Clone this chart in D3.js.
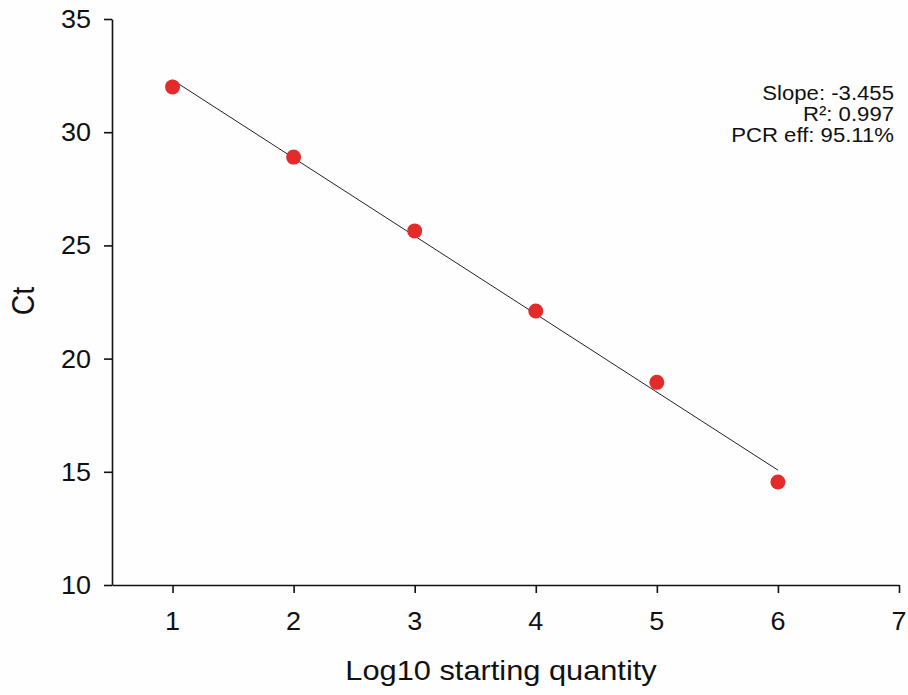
<!DOCTYPE html>
<html>
<head>
<meta charset="utf-8">
<script src="https://cdn.jsdelivr.net/npm/d3@7"></script>
<style>
  html, body { margin: 0; padding: 0; background: #fefefe; }
  svg { display: block; }
  text { font-family: "Liberation Sans", Arial, sans-serif; fill: #111; }
</style>
</head>
<body>
<svg id="chart" width="908" height="695"></svg>
<script>
// ---- data ----
const logQuantity = [1, 2, 3, 4, 5, 6];
const ctValues = [32.0, 28.9, 25.64, 22.1, 18.95, 14.55];
const xTicks = [1, 2, 3, 4, 5, 6, 7];
const yTicks = [10, 15, 20, 25, 30, 35];
const xDomain = [0.5, 7];
const yDomain = [10, 35];
const statLines = ["Slope: -3.455", "R\u00b2: 0.997", "PCR eff: 95.11%"];
const xTitle = "Log10 starting quantity";
const yTitle = "Ct";

// ---- layout ----
const plotL = 112, plotR = 899, plotT = 19, plotB = 585;
const sx = 1.08; // horizontal text stretch seen in the reference

const svg = d3.select("#chart");
const x = d3.scaleLinear().domain(xDomain).range([plotL, plotR]);
const y = d3.scaleLinear().domain(yDomain).range([plotB, plotT]);

// least squares fit for the regression line
const mx = d3.mean(logQuantity), my = d3.mean(ctValues);
const sxy = d3.sum(logQuantity, (v, i) => (v - mx) * (ctValues[i] - my));
const sxx = d3.sum(logQuantity, v => (v - mx) * (v - mx));
const fitSlope = sxy / sxx, fitIntercept = my - fitSlope * mx;
const xa = d3.min(logQuantity), xb = d3.max(logQuantity);

// axes
const xAxis = svg.append("g").attr("transform", `translate(0,${plotB})`)
  .call(d3.axisBottom(x).tickValues(xTicks).tickSize(8).tickSizeOuter(0).tickFormat(d3.format("d")));
const yAxis = svg.append("g").attr("transform", `translate(${plotL},0)`)
  .call(d3.axisLeft(y).tickValues(yTicks).tickSize(8).tickSizeOuter(0).tickFormat(d3.format("d")));

[xAxis, yAxis].forEach(g => {
  g.select(".domain").attr("stroke", "#111").attr("stroke-width", 1.6);
  g.selectAll(".tick line").attr("stroke", "#111").attr("stroke-width", 1.6);
  g.selectAll(".tick text").remove();
});

// tick labels (stretched horizontally like the reference)
xTicks.forEach(v => {
  svg.append("text")
    .attr("transform", `translate(${x(v)},630) scale(${sx},1)`)
    .attr("text-anchor", "middle")
    .style("font-size", "25px")
    .text(v);
});
yTicks.forEach(v => {
  svg.append("text")
    .attr("transform", `translate(91,${y(v) + 9}) scale(${sx},1)`)
    .attr("text-anchor", "end")
    .style("font-size", "25px")
    .text(v);
});

// regression line
svg.append("line")
  .attr("x1", x(xa)).attr("y1", y(fitIntercept + fitSlope * xa))
  .attr("x2", x(xb)).attr("y2", y(fitIntercept + fitSlope * xb))
  .attr("stroke", "#222").attr("stroke-width", 1);

// points
svg.selectAll("circle.pt").data(logQuantity).enter().append("circle")
  .attr("class", "pt")
  .attr("cx", d => x(d))
  .attr("cy", (d, i) => y(ctValues[i]))
  .attr("r", 7.5)
  .attr("fill", "#e32b2b");

// stats annotation
statLines.forEach((t, i) => {
  svg.append("text")
    .attr("transform", `translate(894,${100 + i * 21}) scale(${sx},1)`)
    .attr("text-anchor", "end")
    .style("font-size", "20.5px")
    .text(t);
});

// axis titles
svg.append("text")
  .attr("transform", `translate(501,680) scale(${sx},1)`)
  .attr("text-anchor", "middle")
  .style("font-size", "28.5px")
  .text(xTitle);
svg.append("text")
  .attr("transform", `translate(34,301) rotate(-90) scale(1,${sx})`)
  .attr("text-anchor", "middle")
  .style("font-size", "28.5px")
  .text(yTitle);
</script>
</body>
</html>
